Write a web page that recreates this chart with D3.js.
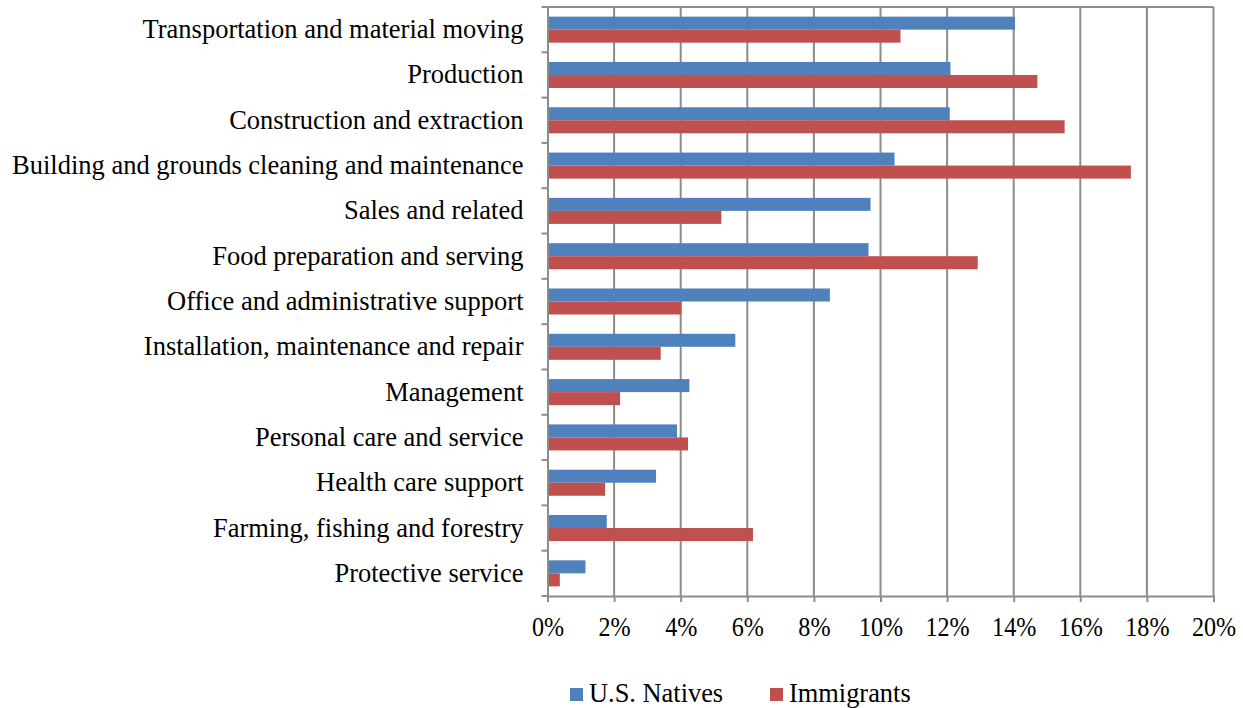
<!DOCTYPE html>
<html>
<head>
<meta charset="utf-8">
<script src="https://cdn.jsdelivr.net/npm/d3@7"></script>
<style>
  body { margin: 0; background: #fff; }
  text { font-family: "Liberation Serif", "Times New Roman", serif; fill: #000; }
</style>
</head>
<body>
<script>
// Категории (сверху вниз)
var categories = [
	"Transportation and material moving",
	"Production",
	"Construction and extraction",
	"Building and grounds cleaning and maintenance",
	"Sales and related",
	"Food preparation and serving",
	"Office and administrative support",
	"Installation, maintenance and repair",
	"Management",
	"Personal care and service",
	"Health care support",
	"Farming, fishing and forestry",
	"Protective service"
];

// Значения серий, %
var natives = [14.04, 12.1, 12.08, 10.42, 9.7, 9.64, 8.48, 5.64, 4.26, 3.89, 3.26, 1.78, 1.14];
var immigrants = [10.6, 14.71, 15.53, 17.52, 5.22, 12.92, 4.02, 3.40, 2.18, 4.22, 1.73, 6.17, 0.37];

var seriesNames = ["U.S. Natives", "Immigrants"];
var seriesColors = ["#4F81BD", "#C0504D"];
var xTicks = [0, 2, 4, 6, 8, 10, 12, 14, 16, 18, 20];

var width = 1243, height = 708;
var margin = {left: 547.5, right: 29.5, top: 7, bottom: 112};

var svg = d3.select("body").append("svg")
	.attr("width", width)
	.attr("height", height);

var x = d3.scaleLinear()
	.domain([0, 20])
	.range([margin.left, width - margin.right]);

var y = d3.scaleBand()
	.domain(categories)
	.range([margin.top, height - margin.bottom]);

var ySub = d3.scaleBand()
	.domain(seriesNames)
	.range([0, y.bandwidth()])
	.paddingOuter(0.74);

// Сетка
svg.append("g")
	.selectAll("line")
	.data(xTicks.slice(1))
	.join("line")
	.attr("x1", d => x(d)).attr("x2", d => x(d))
	.attr("y1", margin.top).attr("y2", height - margin.bottom)
	.attr("stroke", "#8c8c8c")
	.attr("stroke-width", 2);

// Верхняя граница
svg.append("line")
	.attr("x1", margin.left).attr("x2", width - margin.right)
	.attr("y1", margin.top).attr("y2", margin.top)
	.attr("stroke", "#8c8c8c")
	.attr("stroke-width", 2);

// Столбцы
var rows = categories.map((c, i) => ({cat: c, values: [natives[i], immigrants[i]]}));

var group = svg.append("g")
	.selectAll("g")
	.data(rows)
	.join("g")
	.attr("transform", d => "translate(0," + y(d.cat) + ")");

group.selectAll("rect")
	.data(d => d.values.map((v, j) => ({name: seriesNames[j], value: v, color: seriesColors[j]})))
	.join("rect")
	.attr("x", x(0))
	.attr("y", d => ySub(d.name))
	.attr("width", d => x(d.value) - x(0))
	.attr("height", ySub.bandwidth())
	.attr("fill", d => d.color);

// Ось X
var xAxis = svg.append("g")
	.attr("transform", "translate(0," + (height - margin.bottom) + ")")
	.call(d3.axisBottom(x).tickValues(xTicks).tickFormat(d => d + "%").tickSize(6).tickPadding(15));

// Ось Y
var yAxis = svg.append("g")
	.attr("transform", "translate(" + margin.left + ",0)")
	.call(d3.axisLeft(y).tickSize(0).tickPadding(24));

// Деления между категориями
svg.append("g")
	.selectAll("line")
	.data(d3.range(categories.length + 1))
	.join("line")
	.attr("x1", margin.left - 6).attr("x2", margin.left)
	.attr("y1", i => margin.top + i * y.step())
	.attr("y2", i => margin.top + i * y.step())
	.attr("stroke", "#8c8c8c")
	.attr("stroke-width", 2);

[xAxis, yAxis].forEach(function(a) {
	a.select(".domain").attr("stroke", "#8c8c8c").attr("stroke-width", 2);
	a.selectAll(".tick line").attr("stroke", "#8c8c8c").attr("stroke-width", 2);
	a.selectAll("text")
		.attr("font-family", "Liberation Serif, Times New Roman, serif")
		.attr("fill", "#000");
});
// подписи оси X чуть уже, как в оригинале
xAxis.selectAll("text")
	.attr("font-size", 26.5)
	.attr("dy", "0.71em")
	.attr("transform", "scale(0.91,1)");
yAxis.selectAll("text").attr("font-size", 26.5);

// Легенда
var legend = svg.append("g")
	.selectAll("g")
	.data(seriesNames)
	.join("g")
	.attr("transform", (d, i) => "translate(" + (570 + i * 200) + ",688)");

legend.append("rect")
	.attr("width", 13).attr("height", 13)
	.attr("fill", (d, i) => seriesColors[i]);

legend.append("text")
	.attr("x", 19)
	.attr("y", 13.5)
	.attr("font-size", 26.4)
	.text(d => d);
</script>
</body>
</html>
